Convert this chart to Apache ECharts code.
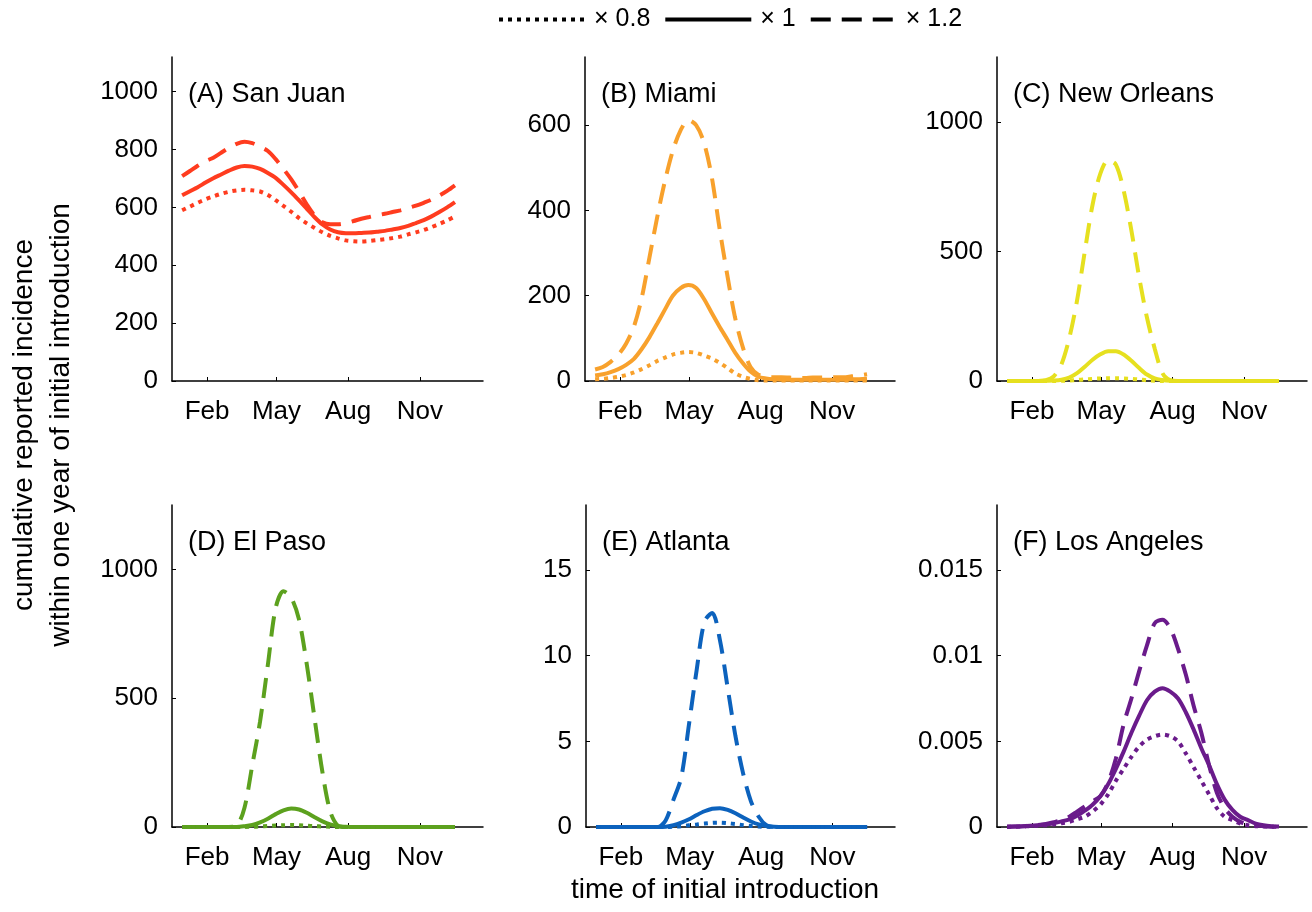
<!DOCTYPE html>
<html>
<head>
<meta charset="utf-8">
<script src="https://cdn.jsdelivr.net/npm/echarts@6/dist/echarts.min.js"></script>
<style>
  html, body { margin: 0; padding: 0; background: #fff; }
  #chart { width: 1312px; height: 912px; }
</style>
</head>
<body>
<div id="chart"></div>
<script>
// day of year of the initial introduction
const days = [0, 10, 20, 30, 40, 50, 60, 70, 80, 90, 100, 110, 120, 130, 140, 150, 160, 170,
  180, 190, 200, 210, 220, 230, 240, 250, 260, 270, 280, 290, 300, 310, 320, 330, 340, 350];

const monthTicks = [32, 121, 213, 305];
const monthNames = ['Feb', 'May', 'Aug', 'Nov'];

// x0.8 = dotted, x1 = solid, x1.2 = dashed
const sanJuan08 = [590, 603, 616, 628, 638, 647, 654, 659, 661, 659, 655, 643, 625, 605, 585, 563, 545, 529,
  514, 502, 493, 486, 483, 482, 484, 487, 490, 494, 499, 507, 514, 522, 532, 543, 555, 569];
const sanJuan10 = [642, 656, 670, 686, 701, 714, 727, 738, 743, 741, 733, 719, 702, 678, 652, 624, 595, 566,
  541, 524, 514, 511, 511, 512, 513, 516, 519, 524, 529, 536, 546, 556, 569, 584, 600, 618];
const sanJuan12 = [708, 726, 744, 760, 772, 789, 806, 820, 827, 822, 810, 795, 767, 733, 697, 655, 610, 572,
  549, 542, 542, 546, 553, 561, 567, 573, 578, 584, 590, 598, 606, 616, 627, 641, 657, 676];

const miami08 = [4, 5, 7, 10, 14, 20, 28, 37, 47, 55, 62, 66, 68, 66, 60, 53, 43, 31,
  18, 10, 5, 2, 1, 1, 1, 1, 1, 1, 1, 1, 1, 1, 1, 1, 1, 1];
const miami10 = [13, 16, 21, 28, 38, 52, 75, 103, 135, 168, 200, 218, 225, 218, 193, 160, 128, 98,
  67, 42, 22, 10, 6, 4, 3, 3, 3, 3, 3, 3, 3, 3, 3, 4, 4, 5];
const miami12 = [27, 33, 45, 62, 88, 128, 195, 290, 385, 470, 540, 588, 612, 600, 560, 480, 360, 250,
  150, 80, 33, 15, 10, 9, 9, 8, 7, 7, 8, 8, 8, 9, 9, 11, 13, 16];

const newOrleans08 = [0, 0, 0, 0, 0, 0, 0, 1, 2, 4, 6, 8, 10, 11, 11, 10, 8, 6,
  3, 1, 0, 0, 0, 0, 0, 0, 0, 0, 0, 0, 0, 0, 0, 0, 0, 0];
const newOrleans10 = [0, 0, 0, 0, 0, 1, 2, 5, 13, 30, 55, 82, 103, 115, 115, 102, 78, 50,
  25, 10, 4, 1, 0, 0, 0, 0, 0, 0, 0, 0, 0, 0, 0, 0, 0, 0];
const newOrleans12 = [0, 0, 0, 0, 0, 3, 18, 65, 165, 310, 500, 680, 800, 852, 835, 735, 580, 400,
  245, 125, 30, 3, 0, 0, 0, 0, 0, 0, 0, 0, 0, 0, 0, 0, 0, 0];

const elPaso08 = [0, 0, 0, 0, 0, 0, 0, 0, 0, 1, 2, 4, 6, 7, 8, 7, 5, 3,
  2, 1, 0, 0, 0, 0, 0, 0, 0, 0, 0, 0, 0, 0, 0, 0, 0, 0];
const elPaso10 = [0, 0, 0, 0, 0, 0, 0, 0, 3, 8, 18, 32, 50, 65, 72, 68, 55, 38,
  22, 10, 3, 1, 0, 0, 0, 0, 0, 0, 0, 0, 0, 0, 0, 0, 0, 0];
const elPaso12 = [0, 0, 0, 0, 0, 0, 0, 5, 75, 240, 410, 630, 850, 915, 890, 805, 630, 420,
  213, 60, 5, 0, 0, 0, 0, 0, 0, 0, 0, 0, 0, 0, 0, 0, 0, 0];

const atlanta08 = [0, 0, 0, 0, 0, 0, 0, 0, 0, 0, 0.02, 0.05, 0.1, 0.15, 0.2, 0.24, 0.25, 0.22,
  0.17, 0.11, 0.06, 0.03, 0.01, 0, 0, 0, 0, 0, 0, 0, 0, 0, 0, 0, 0, 0];
const atlanta10 = [0, 0, 0, 0, 0, 0, 0, 0, 0, 0.02, 0.1, 0.25, 0.45, 0.7, 0.92, 1.07, 1.1, 1.0,
  0.8, 0.55, 0.32, 0.15, 0.06, 0.02, 0, 0, 0, 0, 0, 0, 0, 0, 0, 0, 0, 0];
const atlanta12 = [0, 0, 0, 0, 0, 0, 0, 0, 0, 0.4, 1.6, 2.9, 6.0, 9.2, 12.0, 12.5, 10.9, 8.1,
  5.3, 3.1, 1.5, 0.6, 0.1, 0, 0, 0, 0, 0, 0, 0, 0, 0, 0, 0, 0, 0];

const losAngeles08 = [0.00001, 0.00002, 0.00003, 0.00005, 0.00007, 0.0001, 0.00015, 0.00022, 0.0003,
  0.00045, 0.0006, 0.0009, 0.0013, 0.0019, 0.0027, 0.0034, 0.0041, 0.0047,
  0.0051, 0.0053, 0.0054, 0.0053, 0.005, 0.0043, 0.0035, 0.0027, 0.0019, 0.0011,
  0.0006, 0.0004, 0.0002, 0.0001, 0.00005, 0.00003, 0.00002, 0.00001];
const losAngeles10 = [0.00002, 0.00003, 0.00005, 0.00008, 0.0001, 0.00014, 0.00022, 0.00033, 0.00045,
  0.00065, 0.00095, 0.0013, 0.0018, 0.0025, 0.0034, 0.0044, 0.0055, 0.0065,
  0.0074, 0.0079, 0.0081, 0.0079, 0.0075, 0.0067, 0.0057, 0.0046, 0.0036, 0.0025,
  0.0016, 0.001, 0.0006, 0.0004, 0.0002, 0.0001, 0.00005, 0.00003];
const losAngeles12 = [0.00002, 0.00003, 0.00005, 0.00008, 0.00012, 0.00018, 0.00028, 0.0004, 0.0006,
  0.0009, 0.0012, 0.0015, 0.0018, 0.0026, 0.004, 0.006, 0.0075, 0.0091,
  0.0106, 0.0119, 0.0121, 0.0116, 0.0104, 0.0089, 0.0071, 0.0055, 0.0036, 0.002,
  0.0011, 0.0006, 0.0003, 0.00015, 0.00008, 0.00004, 0.00002, 0.00001];

const yTicksA = [0, 200, 400, 600, 800, 1000];
const yTicksB = [0, 200, 400, 600];
const yTicksC = [0, 500, 1000];
const yTicksD = [0, 500, 1000];
const yTicksE = [0, 5, 10, 15];
const yTicksF = [0, 0.005, 0.01, 0.015];

const FONT = 'Liberation Sans, Arial, Helvetica, sans-serif';

// left, top, width, height of every panel
const panels = [
  { title: '(A) San Juan', color: '#ff3c1f', max: 1120, ticks: yTicksA, box: [172, 57, 311, 324], lines: [sanJuan08, sanJuan10, sanJuan12] },
  { title: '(B) Miami', color: '#f8a12c', max: 760, ticks: yTicksB, box: [585, 57, 310, 324], lines: [miami08, miami10, miami12] },
  { title: '(C) New Orleans', color: '#e6e01f', max: 1250, ticks: yTicksC, box: [997, 57, 310, 324], lines: [newOrleans08, newOrleans10, newOrleans12] },
  { title: '(D) El Paso', color: '#5ca11e', max: 1250, ticks: yTicksD, box: [172, 505, 311, 322], lines: [elPaso08, elPaso10, elPaso12] },
  { title: '(E) Atlanta', color: '#0c62bd', max: 18.8, ticks: yTicksE, box: [586, 505, 309, 322], lines: [atlanta08, atlanta10, atlanta12] },
  { title: '(F) Los Angeles', color: '#6a1b8b', max: 0.0188, ticks: yTicksF, box: [997, 505, 310, 322], lines: [losAngeles08, losAngeles10, losAngeles12] }
];

const scaleNames = ['× 0.8', '× 1', '× 1.2'];
const dashTypes = [[4, 5], 'solid', [20, 11]];

const chart = echarts.init(document.getElementById('chart'));

const grid = [], xAxis = [], yAxis = [], title = [], series = [];
panels.forEach((p, i) => {
  const [l, t, w, h] = p.box;
  grid.push({ left: l, top: t, width: w, height: h });
  title.push({
    text: p.title, left: l + 16, top: t + 24, padding: 0,
    textStyle: { fontSize: 27, fontWeight: 'normal', color: '#000', fontFamily: FONT }
  });
  xAxis.push({
    gridIndex: i, type: 'value', min: -13, max: 386,
    axisLine: { show: true, onZero: false, lineStyle: { color: '#000', width: 1.5 } },
    axisTick: { show: true, inside: true, length: 4, customValues: monthTicks, lineStyle: { color: '#000' } },
    axisLabel: {
      customValues: monthTicks, margin: 18, color: '#000', fontSize: 26, fontFamily: FONT,
      formatter: v => monthNames[monthTicks.indexOf(v)]
    },
    splitLine: { show: false }
  });
  yAxis.push({
    gridIndex: i, type: 'value', min: 0, max: p.max,
    axisLine: { show: true, onZero: false, lineStyle: { color: '#000', width: 1.5 } },
    axisTick: { show: true, inside: true, length: 4, customValues: p.ticks, lineStyle: { color: '#000' } },
    axisLabel: {
      customValues: p.ticks, margin: 14, color: '#000', fontSize: 26, fontFamily: FONT,
      formatter: v => String(v)
    },
    splitLine: { show: false }
  });
  // dashed first, solid, then dotted on top
  [2, 1, 0].forEach(k => {
    series.push({
      name: p.title + ' ' + scaleNames[k],
      type: 'line', xAxisIndex: i, yAxisIndex: i,
      data: days.map((d, j) => [d, p.lines[k][j]]),
      symbol: 'none', smooth: 0.3, clip: true,
      lineStyle: { color: p.color, width: 4, type: dashTypes[k] },
      itemStyle: { color: p.color }
    });
  });
});

// key at the top: black lines only
scaleNames.forEach((n, k) => {
  series.push({
    name: n, type: 'line', xAxisIndex: 0, yAxisIndex: 0, data: [],
    symbol: 'none', color: '#000',
    lineStyle: { color: '#000', width: 4, type: dashTypes[k] }
  });
});

chart.setOption({
  animation: false,
  backgroundColor: '#fff',
  textStyle: { fontFamily: FONT },
  title: title,
  legend: {
    data: [
      { name: scaleNames[0] },
      { name: scaleNames[1], textStyle: { padding: [0, 8, 0, 4] } },
      { name: scaleNames[2] }
    ],
    left: 492, top: 2, selectedMode: false,
    itemWidth: 86, itemHeight: 14, itemGap: 13,
    itemStyle: { opacity: 0 },
    lineStyle: { width: 4 },
    textStyle: { fontSize: 25, color: '#000', fontFamily: FONT, padding: [0, 0, 0, 4] }
  },
  grid: grid,
  xAxis: xAxis,
  yAxis: yAxis,
  series: series,
  graphic: [
    {
      type: 'text', x: 24, y: 425, rotation: Math.PI / 2,
      style: { text: 'cumulative reported incidence', fontSize: 28, fontFamily: FONT, fill: '#000', align: 'center', verticalAlign: 'middle' }
    },
    {
      type: 'text', x: 61, y: 425, rotation: Math.PI / 2,
      style: { text: 'within one year of initial introduction', fontSize: 28, fontFamily: FONT, fill: '#000', align: 'center', verticalAlign: 'middle' }
    },
    {
      type: 'text', x: 725, y: 890,
      style: { text: 'time of initial introduction', fontSize: 28, fontFamily: FONT, fill: '#000', align: 'center', verticalAlign: 'middle' }
    }
  ]
});
</script>
</body>
</html>
